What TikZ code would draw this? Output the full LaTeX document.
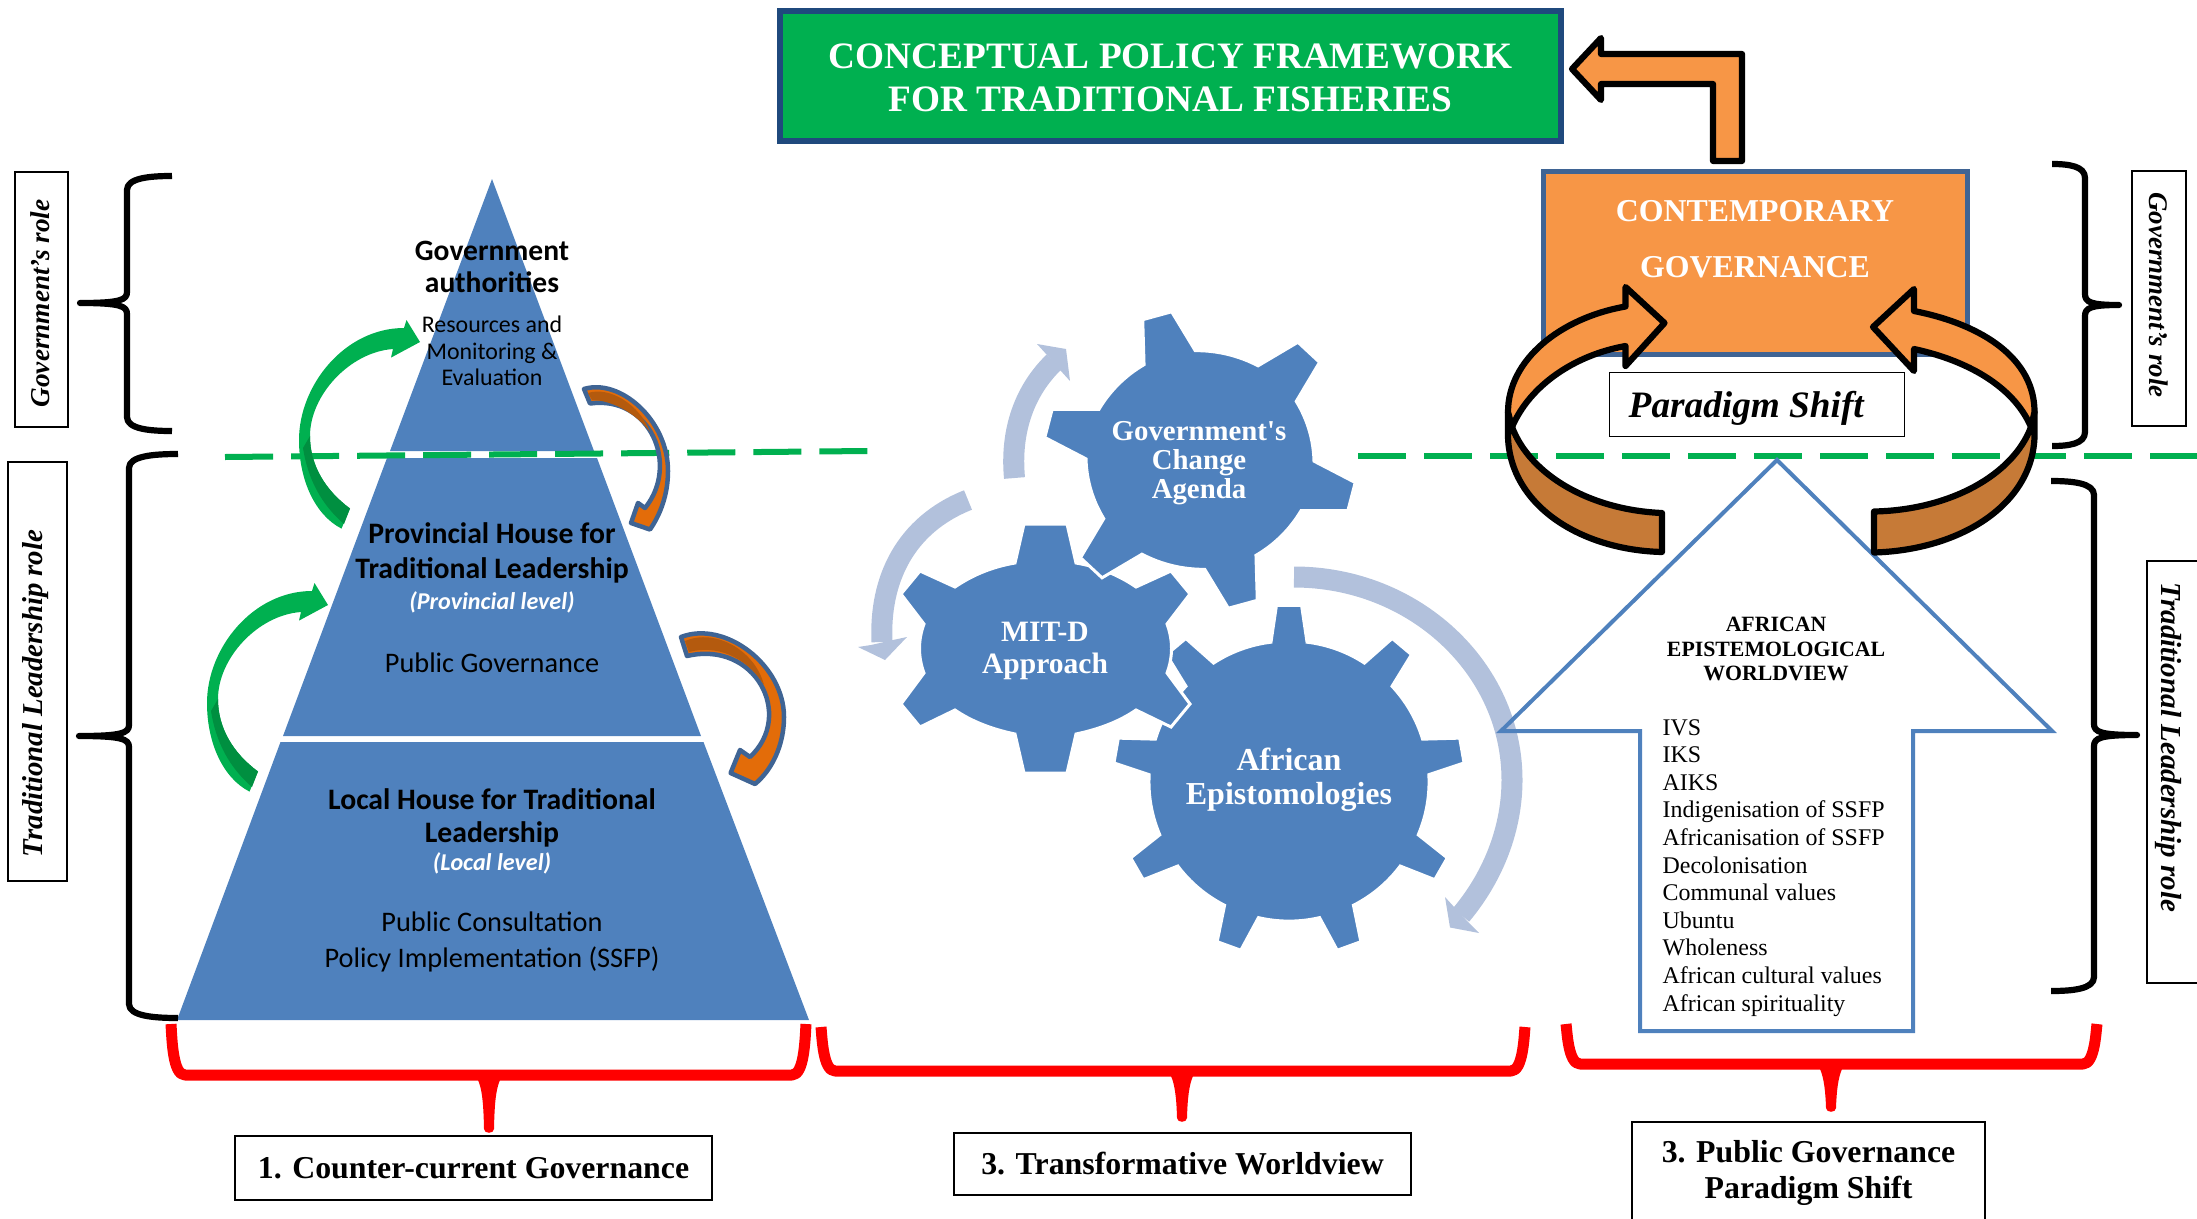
\documentclass[tikz,border=0pt]{standalone}
\usepackage{fontspec}
\setmainfont{Liberation Serif}
\newfontfamily\calib{Carlito}
\usetikzlibrary{
	calc,
	positioning,
	shapes.geometric
}
\definecolor{tierblue}{HTML}{4F81BD}
\definecolor{edgeblue}{HTML}{3F6494}
\definecolor{paleblue}{HTML}{B2C1DC}
\definecolor{leafgreen}{HTML}{00B050}
\definecolor{deepgreen}{HTML}{008F40}
\definecolor{boxorange}{HTML}{F79646}
\definecolor{ringbrown}{HTML}{C67A37}
\definecolor{rustorange}{HTML}{B45A0E}
\definecolor{brightorange}{HTML}{E36C09}
\definecolor{titlenavy}{HTML}{1F497D}
\newcommand{\sidebrace}[6]{%
  \draw[bracket] (#1,#4) .. controls ({#1+(#2-#1)*.5},#4) and (#2,{#4+2}) .. (#2,{#4+14}) -- (#2,{#5-11})
    .. controls (#2,{#5-3}) and ({#2+(#3-#2)*.15},#5) .. (#3,#5)
    .. controls ({#2+(#3-#2)*.15},#5) and (#2,{#5+3}) .. (#2,{#5+11}) -- (#2,{#6-14})
    .. controls (#2,{#6-2}) and ({#1+(#2-#1)*.5},#6) .. (#1,#6);}
\newcommand{\redbrace}[6]{%
  \draw[redbracket] (#1,#4) .. controls ({#1+1},{#5-34}) and ({#1+2},#5) .. ({#1+14},#5) -- ({#3-14},#5)
    .. controls ({#3-2},#5) and ({#3-1},{#5-34}) .. (#3,#4);
  \fill[red] ({#2-11},{#5-5}) -- (#2,{#5-1}) -- ({#2+11},{#5-5}) -- ({#2+11},{#5+5})
    .. controls ({#2+7},{#5+14}) and ({#2+5.5},{#5+28}) .. ({#2+5},{#6-3})
    .. controls ({#2+5},{#6+2}) and ({#2-5},{#6+2}) .. ({#2-5},{#6-3})
    .. controls ({#2-5.5},{#5+28}) and ({#2-7},{#5+14}) .. ({#2-11},{#5+5}) -- cycle;}
\newcommand{\gearpath}[6]{%
  \filldraw[gearfill] ({#2-#5}:#3)
    \foreach \gearno [evaluate=\gearno as \gearang using #2+(\gearno-1)*360/#1,
        evaluate=\gearno as \geararc using 360/#1-2*#5] in {1,...,#1} {
      -- ({\gearang-#6}:#4) -- ({\gearang+#6}:#4) -- ({\gearang+#5}:#3)
      .. controls ({\gearang+#5+\geararc/3}:{#3*1.012}) and ({\gearang+#5+2*\geararc/3}:{#3*1.012})
      .. ({\gearang+#5+\geararc}:#3)
    } -- cycle;}
\tikzset{
  bracket/.style={draw=black,line width=.062cm,line join=round},
  redbracket/.style={draw=red,line width=.11cm,line join=round},
  labelbox/.style={draw=black,fill=white,line width=.014cm,inner sep=0pt,font=\fontsize{9.05}{10.2}\selectfont\bfseries,align=center},
  rolebox/.style={draw=black,fill=white,line width=.014cm,inner sep=0pt},
  roletext/.style={inner sep=0pt},
  gearfill/.style={fill=tierblue,draw=white,line width=.03cm},
  geartext/.style={inner sep=0pt,text=white,align=center,font=\bfseries},
  tiertext/.style={inner sep=0pt,align=center,font=\calib},
  leveltext/.style={inner sep=0pt,text=white,font=\calib\bfseries\itshape\fontsize{6.85}{8}\selectfont},
  tierfill/.style={fill=tierblue},
  paleline/.style={draw=paleblue,line width=.21cm},
  splitline/.style={draw=leafgreen,line width=.06cm,dash pattern=on .48cm off .18cm},
  blackoutline/.style={draw=black,line width=.062cm,line join=round},
  downarrow/.style={fill=brightorange,draw=edgeblue,line width=.045cm,line join=round}
}
\begin{document}
\begin{tikzpicture}[x=.01cm,y=-.01cm,
   greenarrow/.pic={
     \fill[leafgreen] (404,328) .. controls (345,328) and (299,385) .. (299,440)
       .. controls (299,480) and (315,515) .. (341.5,528.6) -- (350,508.5)
       .. controls (325,490) and (310,465) .. (310,436)
       .. controls (310,395) and (350,352) .. (393,349)
       -- (391,357.6) -- (420,342) -- (406.5,320) -- cycle;
     \fill[deepgreen] (303,448) .. controls (308,480) and (322,505) .. (344,524) -- (350,508.5)
       .. controls (325,490) and (310,465) .. (310,436) -- cycle;
   }]
  \useasboundingbox (0,0) rectangle (2197,1218);

  \node[fill=leafgreen,draw=titlenavy,line width=.055cm,minimum width=7.81cm,minimum height=1.30cm,inner sep=0pt] (titlebox) at (1170.5,76) {};
  \node[inner sep=0pt,text=white,align=center,font=\fontsize{10.6}{12.2}\selectfont\bfseries] (title) at (1170.5,78)
     {CONCEPTUAL POLICY FRAMEWORK\\FOR TRADITIONAL FISHERIES};

  \fill[tierfill] (492,179) -- (594,451) -- (390,451) -- cycle;
  \fill[tierfill] (387,458) -- (597,458) -- (701,736) -- (283,736) -- cycle;
  \fill[tierfill] (280.5,742) -- (703.5,742) -- (809,1020) -- (177,1020) -- cycle;

  \draw[splitline] (225,457) -- (868,451);
  \draw[splitline] (1358,456) -- (2197,456);

  \pic at (0,0) {greenarrow};
  \pic at (-92,263) {greenarrow};

  \filldraw[downarrow] (584,389) .. controls (620,378) and (668,420) .. (668,471)
     .. controls (668,495) and (660,515) .. (650,529.5) -- (631,523) -- (638,503) -- (645,508)
     .. controls (680,465) and (650,395) .. (590,403.5) -- cycle;
  \fill[rustorange] (588,393) .. controls (610,386) and (640,405) .. (650,432)
     .. controls (635,412) and (610,400) .. (592,400) -- cycle;
  \filldraw[downarrow] (681,637) .. controls (725,620) and (784,665) .. (784,717)
     .. controls (784,745) and (772,770) .. (755,784) -- (730.6,773) -- (740,750) -- (750,757)
     .. controls (795,715) and (755,640) .. (687,656) -- cycle;
  \fill[rustorange] (685,641) .. controls (715,628) and (755,650) .. (764,685)
     .. controls (745,655) and (715,645) .. (689,652) -- cycle;

  \node[tiertext,font=\calib\bfseries\fontsize{8.4}{9.2}\selectfont] (govhead) at (492,267) {Government\\authorities};
  \node[tiertext,font=\calib\fontsize{6.8}{7.6}\selectfont] (govtext) at (492,351) {Resources and\\Monitoring \&\\Evaluation};
  \node[tiertext,font=\calib\bfseries\fontsize{8.45}{9.9}\selectfont] (provhead) at (492,553) {Provincial House for\\Traditional Leadership};
  \node[leveltext] (provlevel) at (492,602) {(Provincial level)};
  \node[tiertext,font=\calib\fontsize{8.05}{8.8}\selectfont] (provtext) at (492,663) {Public Governance};
  \node[tiertext,font=\calib\bfseries\fontsize{8.45}{9.2}\selectfont] (localhead) at (492,818) {Local House for Traditional\\Leadership};
  \node[leveltext] (locallevel) at (492,863) {(Local level)};
  \node[tiertext,font=\calib\fontsize{8.05}{10.4}\selectfont] (localtext) at (492,942) {Public Consultation\\Policy Implementation (SSFP)};

  \begin{scope}[shift={(1289,781)}]
    \gearpath{9}{-90}{140}{176}{7.4}{4.1}
  \end{scope}
  \filldraw[gearfill] (1024,524) -- (1067,524) -- (1076,563) .. controls (1100,567) and (1120,576) .. (1136,587)
     -- (1171,571) -- (1190,594) -- (1167,624) .. controls (1173,640) and (1173,657) .. (1167,673)
     -- (1190,704) -- (1171,727) -- (1136,710) .. controls (1120,721) and (1100,729) .. (1076,734)
     -- (1067,773) -- (1024,773) -- (1015,734) .. controls (991,729) and (971,721) .. (955,710)
     -- (920,727) -- (901,704) -- (924,673) .. controls (918,657) and (918,640) .. (924,624)
     -- (901,594) -- (920,571) -- (955,587) .. controls (971,576) and (991,567) .. (1015,563) -- cycle;
  \begin{scope}[shift={(1200,460)},yscale=.96]
    \gearpath{6}{14.1}{114}{157}{13.5}{5.5}
  \end{scope}

  \node[geartext,font=\bfseries\fontsize{8.2}{8.3}\selectfont] (govgear) at (1199,463) {Government\textquotesingle s\\Change\\Agenda};
  \node[geartext,font=\bfseries\fontsize{8.4}{9.1}\selectfont] (mitgear) at (1045,651) {MIT-D\\Approach};
  \node[geartext,font=\bfseries\fontsize{9.1}{9.7}\selectfont] (afrgear) at (1289,780) {African\\Epistomologies};

  \draw[paleline] (1014.5,478) .. controls (1010,430) and (1025,390) .. (1054,362);
  \fill[paleblue] (1037,344) -- (1066,349) -- (1070,381) -- (1060,370) -- (1047,355) -- cycle;
  \draw[paleline] (968,500) .. controls (905,525) and (879,580) .. (882,642);
  \fill[paleblue] (858,647) -- (871,645) -- (893,640) -- (907,637) -- (885,660) -- cycle;

  \draw[paleline] (1294,577) .. controls (1414,577) and (1512,668) .. (1512,780)
     .. controls (1512,827) and (1494.5,875) .. (1461,915);
  \fill[paleblue] (1445,897) -- (1455,908) -- (1469,923) -- (1479,933) -- (1450,927.5) -- cycle;

  \draw[draw=tierblue,line width=.04cm,line join=miter] (1777,460) -- (2052,731) -- (1913,731) -- (1913,1031)
     -- (1640,1031) -- (1640,731) -- (1501,731) -- cycle;

  \node[inner sep=0pt,align=center,font=\bfseries\fontsize{6.2}{7}\selectfont] (worldview) at (1776,649) {AFRICAN\\EPISTEMOLOGICAL\\WORLDVIEW};
  \node[inner sep=0pt,anchor=north west,align=left,font=\fontsize{6.8}{7.85}\selectfont] (worldlist) at (1662,718.5) {IVS\\IKS\\AIKS\\Indigenisation of SSFP\\Africanisation of SSFP\\Decolonisation\\Communal values\\Ubuntu\\Wholeness\\African cultural values\\African spirituality};

  \filldraw[fill=boxorange,blackoutline] (1572,69) -- (1601,38) -- (1601,54) -- (1742,54) -- (1742,161)
     -- (1713,161) -- (1713,84) -- (1601,84) -- (1601,100) -- cycle;

  \node[fill=boxorange,draw=edgeblue,line width=.05cm,minimum width=4.23cm,minimum height=1.82cm,inner sep=0pt] (contemp) at (1755.5,263) {};
  \node[inner sep=0pt,text=white,font=\bfseries\fontsize{9.05}{10}\selectfont] (contempa) at (1755,211) {CONTEMPORARY};
  \node[inner sep=0pt,text=white,font=\bfseries\fontsize{9.05}{10}\selectfont] (contempb) at (1755,267) {GOVERNANCE};

  \node[draw=black,fill=white,line width=.014cm,minimum width=2.95cm,minimum height=.635cm,inner sep=0pt] (shiftbox) at (1757,404.5) {};
  \node[inner sep=0pt,anchor=west,font=\bfseries\itshape\fontsize{10.6}{12}\selectfont] (shift) at (1628,408) {Paradigm Shift};

  \filldraw[fill=ringbrown,blackoutline] (1512,427) .. controls (1530,475) and (1590,510) .. (1662,513)
     -- (1662,552) .. controls (1580,550) and (1510,505) .. (1508,437) -- (1508,412) -- cycle;
  \filldraw[fill=boxorange,blackoutline] (1664.5,323) -- (1625.5,287) -- (1625.5,306.5)
     .. controls (1560,318) and (1508,360) .. (1508,412) -- (1512,427)
     .. controls (1530,385) and (1575,355) .. (1625.5,346) -- (1625.5,366) -- cycle;
  \filldraw[fill=ringbrown,blackoutline] (2031,427) .. controls (2013,475) and (1950,510) .. (1874,511.5)
     -- (1874,552.5) .. controls (1960,550) and (2032,505) .. (2034.5,437) -- (2034.5,412) -- cycle;
  \filldraw[fill=boxorange,blackoutline] (1873,327) -- (1914,289) -- (1914,311)
     .. controls (1985,325) and (2034.5,360) .. (2034.5,412) -- (2031,427)
     .. controls (2013,385) and (1965,360) .. (1914,349) -- (1914,371) -- cycle;

  \sidebrace{172}{127}{80}{176}{303}{431}
  \sidebrace{178}{129}{79}{454}{736}{1018}
  \sidebrace{2052}{2085}{2119}{164}{305}{446}
  \sidebrace{2051}{2094}{2137}{481}{735}{991}

  \redbrace{171}{489}{806}{1024}{1075}{1132}
  \redbrace{821}{1182}{1525}{1027}{1071}{1121}
  \redbrace{1566}{1831}{2097}{1024}{1064}{1111}

  \node[rolebox,minimum width=.53cm,minimum height=2.55cm] (govboxL) at (41.5,299.5) {};
  \node[roletext,rotate=90,font=\bfseries\itshape\fontsize{7.75}{8.5}\selectfont] (govroleL) at (40,303.5) {Government’s role};
  \node[rolebox,minimum width=.59cm,minimum height=4.19cm] (tradboxL) at (37.5,671.5) {};
  \node[roletext,rotate=90,font=\bfseries\itshape\fontsize{8.2}{9.5}\selectfont] (tradroleL) at (36,693.5) {Traditional Leadership role};
  \node[rolebox,minimum width=.54cm,minimum height=2.55cm] (govboxR) at (2159,298.5) {};
  \node[roletext,rotate=-90,font=\bfseries\itshape\fontsize{7.65}{8.5}\selectfont] (govroleR) at (2159,295) {Government’s role};
  \node[rolebox,minimum width=.56cm,minimum height=4.22cm] (tradboxR) at (2175,772) {};
  \node[roletext,rotate=-90,font=\bfseries\itshape\fontsize{8.25}{9.5}\selectfont] (tradroleR) at (2168,747.5) {Traditional Leadership role};

  \node[labelbox,minimum width=4.77cm,minimum height=.64cm] (counter) at (473.5,1168) {1. Counter-current Governance};
  \node[labelbox,minimum width=4.57cm,minimum height=.62cm] (transform) at (1182.5,1164) {3. Transformative Worldview};
  \node[labelbox,minimum width=3.53cm,minimum height=1.02cm] (public) at (1808.5,1173) {3. Public Governance\\Paradigm Shift};
\end{tikzpicture}
\end{document}
